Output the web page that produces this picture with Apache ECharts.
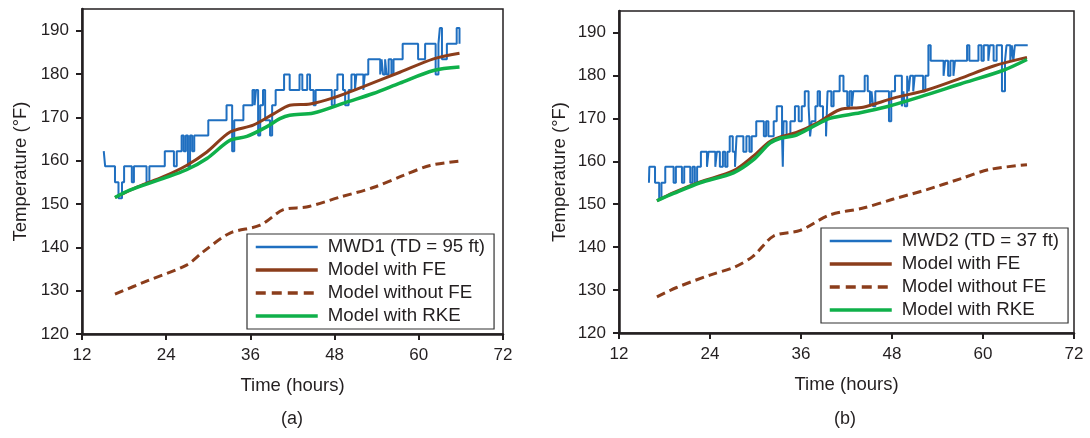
<!DOCTYPE html>
<html>
<head>
<meta charset="utf-8">
<script src="https://cdn.jsdelivr.net/npm/echarts@6/dist/echarts.min.js"></script>
<style>
  html, body { margin: 0; padding: 0; background: #fff; }
  #chart { width: 1090px; height: 438px; }
</style>
</head>
<body>
<div id="chart"></div>
<script>
// tick labels
var xTicks = [12, 24, 36, 48, 60, 72];
var yTicks = [120, 130, 140, 150, 160, 170, 180, 190];

// (a) MWD1 (TD = 95 ft) measured, [hours, degF], value holds from that time on
var mwd1 = [
  [15.1,162.2],[15.3,158.7],[16.7,155.0],[17.2,151.3],[17.7,155.0],[18.0,158.7],
  [19.1,155.0],[19.4,158.7],[21.2,155.0],[21.6,158.7],[23.8,162.2],[25.1,158.7],
  [25.5,162.2],[26.2,165.8],[26.5,162.2],[26.8,165.8],[27.1,158.7],[27.4,165.8],
  [27.7,162.2],[28.0,165.8],[30.0,169.3],[32.6,172.8],[33.4,162.2],[33.7,169.3],
  [35.0,172.8],[36.3,176.3],[36.6,172.8],[36.8,176.3],[37.1,165.8],[37.4,172.8],
  [37.8,176.3],[38.1,169.3],[38.8,165.8],[39.1,172.8],[39.6,176.3],[40.8,179.9],
  [41.6,176.3],[43.0,179.9],[43.4,176.3],[44.1,179.9],[44.5,176.3],[45.0,172.8],
  [45.3,176.3],[47.6,172.8],[48.0,176.3],[48.4,179.9],[49.2,176.3],[49.5,172.8],
  [50.0,176.3],[50.4,179.9],[50.9,176.3],[51.1,179.9],[52.1,176.3],[52.3,179.9],
  [52.8,183.4],[54.5,179.9],[54.7,183.4],[54.9,179.9],[55.2,183.4],[55.4,179.9],
  [55.7,183.4],[56.1,179.9],[56.4,183.4],[57.7,187.0],[59.9,183.4],[60.9,187.0],
  [62.4,179.9],[62.8,187.0],[63.0,190.6],[63.3,183.4],[64.0,187.0],[65.4,190.6],
  [65.8,187.0]
];
var fe1 = [
  [16.7,151.5],[20.0,154.0],[23.6,156.3],[26.9,158.9],[29.8,162.0],[33.1,166.6],
  [36.4,168.2],[39.3,170.8],[41.6,172.8],[44.5,173.1],[47.8,174.5],[52.1,177.1],
  [57.3,180.4],[62.1,183.5],[65.8,184.8]
];
var noFe1 = [
  [16.7,129.2],[21.2,132.2],[26.9,135.9],[29.3,139.0],[33.1,143.3],[37.4,145.1],
  [40.7,148.7],[44.0,149.3],[48.8,151.6],[53.5,153.8],[57.8,156.6],[61.6,158.9],
  [65.8,159.9]
];
var rke1 = [
  [16.7,151.5],[18.8,153.2],[23.6,155.9],[26.9,157.9],[29.8,160.5],[33.1,164.7],
  [35.5,165.6],[38.3,167.8],[40.2,169.7],[41.6,170.5],[45.0,171.0],[49.7,173.5],
  [53.5,175.5],[57.3,177.9],[62.1,180.8],[65.8,181.6]
];

// (b) MWD2 (TD = 37 ft)
var mwd2 = [
  [15.95,155.0],[16.0,158.7],[16.75,155.0],[17.3,151.3],[17.6,155.0],[18.1,158.7],
  [19.2,155.0],[19.5,158.7],[20.3,155.0],[20.6,158.7],[21.4,155.0],[21.7,158.7],
  [22.0,155.0],[22.3,158.7],[22.8,162.2],[23.6,158.7],[23.8,162.2],[24.7,158.7],
  [24.9,162.2],[25.3,158.7],[25.7,162.2],[26.0,158.7],[26.3,162.2],[26.6,165.8],
  [27.0,162.2],[27.3,158.7],[27.5,165.8],[28.4,162.2],[28.8,165.8],[29.2,162.2],
  [29.5,165.8],[30.1,169.3],[31.1,165.8],[31.4,169.3],[31.7,165.8],[32.4,169.3],
  [32.8,172.8],[33.5,165.8],[33.6,158.7],[33.7,169.3],[34.1,165.8],[34.6,169.3],
  [35.2,172.8],[35.7,169.3],[36.1,172.8],[36.5,176.3],[37.0,172.8],[37.2,165.8],
  [37.4,169.3],[37.9,172.8],[38.2,176.3],[38.5,172.8],[38.9,169.3],[39.3,165.8],
  [39.5,176.3],[40.0,172.8],[40.3,176.3],[41.1,179.9],[41.6,176.3],[42.1,172.8],
  [42.4,176.3],[42.7,172.8],[42.9,176.3],[44.4,179.9],[44.8,176.3],[45.1,172.8],
  [45.3,176.3],[45.5,172.8],[45.8,176.3],[47.6,169.3],[47.9,176.3],[48.4,179.9],
  [49.3,172.8],[49.5,176.3],[49.7,172.8],[50.0,179.9],[50.2,176.3],[50.4,179.9],
  [50.8,176.3],[51.0,179.9],[52.1,176.3],[52.4,179.9],[52.8,187.0],[53.1,183.4],
  [54.8,179.9],[55.0,183.4],[55.4,179.9],[55.7,183.4],[56.1,179.9],[56.3,183.4],
  [57.9,187.0],[58.2,183.4],[59.4,187.0],[59.8,183.4],[60.1,187.0],[60.7,183.4],
  [60.9,187.0],[61.4,183.4],[61.8,187.0],[62.5,176.3],[62.9,183.4],[63.1,187.0],
  [63.6,183.4],[63.8,187.0],[64.0,183.4],[64.2,187.0],[65.9,187.0]
];
var fe2 = [
  [17.0,150.8],[19.2,152.7],[22.7,155.2],[27.1,157.8],[29.7,161.2],[31.9,164.6],
  [33.7,165.9],[35.4,166.7],[38.1,168.9],[41.1,172.0],[44.2,172.6],[48.2,174.7],
  [52.6,176.6],[57.0,179.3],[61.4,182.2],[65.8,184.2]
];
var noFe2 = [
  [17.0,128.4],[19.6,130.6],[24.0,133.5],[27.3,135.4],[29.7,137.9],[32.4,142.6],
  [35.9,143.9],[39.8,147.5],[44.2,149.1],[48.2,151.2],[52.6,153.4],[57.0,155.9],
  [60.9,158.1],[65.8,159.2]
];
var rke2 = [
  [17.0,150.8],[19.2,152.5],[22.7,155.0],[27.1,157.3],[29.7,160.3],[31.9,164.2],
  [33.2,165.3],[35.4,166.1],[37.6,168.1],[39.8,170.0],[43.8,171.3],[47.3,172.7],
  [51.7,175.0],[57.0,178.0],[62.7,181.2],[65.8,183.7]
];

var FONT = 'Liberation Sans, Arial, sans-serif';
var INK = '#231f20';
var BLUE = '#1f6fc0';
var BROWN = '#8b3d1b';
var GREEN = '#0fb04a';

function xAx(idx) {
  return {
    gridIndex: idx, type: 'value', min: 12, max: 72, interval: 12,
    name: 'Time (hours)', nameLocation: 'middle', nameGap: 42,
    nameTextStyle: { fontFamily: FONT, fontSize: 18.5, color: INK },
    axisLine: { lineStyle: { color: INK, width: 2.5 } },
    axisTick: { inside: false, length: 6, lineStyle: { color: INK, width: 2 }, customValues: xTicks },
    axisLabel: { fontFamily: FONT, fontSize: 17, color: INK, margin: 13, customValues: xTicks },
    splitLine: { show: false }
  };
}
function yAx(idx, gap) {
  return {
    gridIndex: idx, type: 'value', min: 120, max: 195, interval: 10,
    name: 'Temperature (°F)', nameLocation: 'middle', nameGap: gap,
    nameTextStyle: { fontFamily: FONT, fontSize: 18.5, color: INK },
    axisLine: { lineStyle: { color: INK, width: 2.5 } },
    axisTick: { inside: false, length: 6, lineStyle: { color: INK, width: 2 }, customValues: yTicks },
    axisLabel: { fontFamily: FONT, fontSize: 17, color: INK, margin: 13, customValues: yTicks },
    splitLine: { show: false }
  };
}
function lines(idx, mwd, fe, noFe, rke, mwdName) {
  return [
    { name: mwdName, type: 'line', xAxisIndex: idx, yAxisIndex: idx, data: mwd, step: 'end',
      symbol: 'none', lineStyle: { color: BLUE, width: 2 }, itemStyle: { color: BLUE } },
    { name: 'Model with FE', type: 'line', xAxisIndex: idx, yAxisIndex: idx, data: fe, smooth: 0.3,
      symbol: 'none', lineStyle: { color: BROWN, width: 3 }, itemStyle: { color: BROWN } },
    { name: 'Model without FE', type: 'line', xAxisIndex: idx, yAxisIndex: idx, data: noFe, smooth: 0.3,
      symbol: 'none', lineStyle: { color: BROWN, width: 3, type: [9, 5] }, itemStyle: { color: BROWN } },
    { name: 'Model with RKE', type: 'line', xAxisIndex: idx, yAxisIndex: idx, data: rke, smooth: 0.3,
      symbol: 'none', lineStyle: { color: GREEN, width: 3.5 }, itemStyle: { color: GREEN } }
  ];
}
function legendBox(idx, left, top, mwdName) {
  return {
    seriesIndex: [idx * 4, idx * 4 + 1, idx * 4 + 2, idx * 4 + 3],
    data: [
      { name: mwdName, lineStyle: { width: 2.5 } },
      { name: 'Model with FE', lineStyle: { width: 3.5 } },
      { name: 'Model without FE', lineStyle: { width: 3.5, type: [10, 6] } },
      { name: 'Model with RKE', lineStyle: { width: 3.5 } }
    ],
    orient: 'vertical', left: left, top: top,
    itemWidth: 62, itemHeight: 14, itemGap: 3,
    padding: [3, 9, 3, 7],
    borderColor: '#333', borderWidth: 1.2,
    itemStyle: { opacity: 0 },
    textStyle: { fontFamily: FONT, fontSize: 18.7, color: INK, lineHeight: 20, padding: [0, 0, 0, 5] },
    selectedMode: false
  };
}

var chart = echarts.init(document.getElementById('chart'), null, { renderer: 'canvas' });
chart.setOption({
  backgroundColor: '#fff',
  animation: false,
  grid: [
    { left: 82, top: 9, width: 421, height: 325, show: true, borderColor: INK, borderWidth: 1.5, backgroundColor: 'transparent' },
    { left: 619, top: 11, width: 455, height: 322, show: true, borderColor: INK, borderWidth: 1.5, backgroundColor: 'transparent' }
  ],
  xAxis: [xAx(0), xAx(1)],
  yAxis: [yAx(0, 52), yAx(1, 50)],
  legend: [
    legendBox(0, 247, 234, 'MWD1 (TD = 95 ft)'),
    legendBox(1, 821, 228, 'MWD2 (TD = 37 ft)')
  ],
  series: lines(0, mwd1, fe1, noFe1, rke1, 'MWD1 (TD = 95 ft)')
    .concat(lines(1, mwd2, fe2, noFe2, rke2, 'MWD2 (TD = 37 ft)')),
  graphic: [
    { type: 'text', left: 281, top: 410, style: { text: '(a)', font: '18px ' + FONT, fill: INK } },
    { type: 'text', left: 834, top: 410, style: { text: '(b)', font: '18px ' + FONT, fill: INK } }
  ]
});
</script>
</body>
</html>
